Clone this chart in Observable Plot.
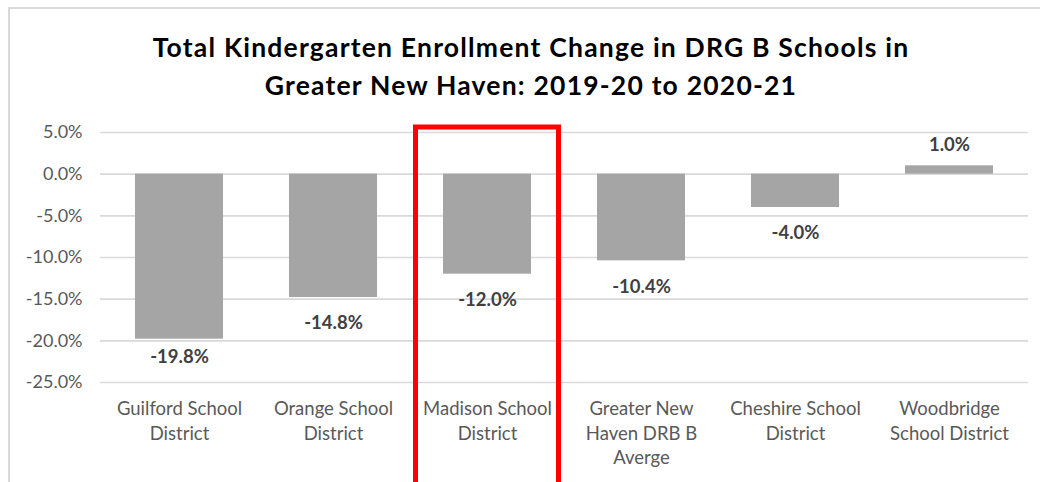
<!DOCTYPE html>
<html>
<head>
<meta charset="utf-8">
<script src="https://cdn.jsdelivr.net/npm/d3@7"></script>
<script src="https://cdn.jsdelivr.net/npm/@observablehq/plot@0.6"></script>
<style>
  html, body { margin: 0; padding: 0; background: #fff; }
  #frame { position: relative; width: 1040px; height: 482px; overflow: hidden; background: #fff; font-family: Lato, "Noto Sans", sans-serif; }
  #border { position: absolute; left: 8px; top: 7px; width: 1100px; height: 600px; border-top: 2px solid #D9D9D9; border-left: 2px solid #D9D9D9; box-sizing: border-box; }
  #title { position: absolute; left: 0; width: 1062px; top: 28px; text-align: center; font-weight: bold; font-size: 26.5px; letter-spacing: 1.2px; line-height: 38px; color: #000; }
  #chart { position: absolute; left: 0; top: 110px; }
</style>
</head>
<body>
<div id="frame">
  <div id="border"></div>
  <div id="title">Total Kindergarten Enrollment Change in DRG B Schools in<br>Greater New Haven: 2019-20 to 2020-21</div>
  <div id="chart"></div>
</div>
<script>
const categories = [
  "Guilford School District",
  "Orange School District",
  "Madison School District",
  "Greater New Haven DRB B Averge",
  "Cheshire School District",
  "Woodbridge School District"
];
const tickLabels = [
  "Guilford School\nDistrict",
  "Orange School\nDistrict",
  "Madison School\nDistrict",
  "Greater New\nHaven DRB B\nAverge",
  "Cheshire School\nDistrict",
  "Woodbridge\nSchool District"
];
const values = [-19.8, -14.8, -12.0, -10.4, -4.0, 1.0];
const yTicks = [5, 0, -5, -10, -15, -20, -25];
const highlighted = ["Madison School District"];
const highlightSpan = [5.6, -38];

const data = categories.map((c, i) => ({category: c, value: values[i]}));
const labelOf = new Map(categories.map((c, i) => [c, tickLabels[i]]));
const labelFloor = -21.9; // keeps lowest data label inside the plot, as in the original

const chart = Plot.plot({
  width: 1040,
  height: 372,
  marginLeft: 100,
  marginRight: 12,
  marginTop: 22,
  marginBottom: 100,
  style: {fontFamily: "Lato, 'Noto Sans', sans-serif", background: "transparent"},
  x: {domain: categories, paddingInner: 0.43, paddingOuter: 0.215, label: null},
  y: {domain: [-25, 5], label: null},
  marks: [
    Plot.gridY(yTicks, {stroke: "#D9D9D9", strokeOpacity: 1, strokeWidth: 1.6}),
    Plot.axisY(yTicks, {tickSize: 0, tickPadding: 18, fontSize: 18, fill: "#595959", tickFormat: d => d.toFixed(1) + "%"}),
    Plot.axisX({tickSize: 0, tickPadding: 15, fontSize: 18.5, fill: "#595959", lineHeight: 1.33, tickFormat: d => labelOf.get(d)}),
    Plot.barY(data, {x: "category", y: "value", fill: "#A5A5A5"}),
    Plot.text(data.filter(d => d.value < 0), {
      x: "category", y: d => Math.max(d.value - 3.1, labelFloor),
      text: d => d.value.toFixed(1) + "%", fontSize: 18.5, fontWeight: "bold", fill: "#404040"
    }),
    Plot.text(data.filter(d => d.value >= 0), {
      x: "category", y: "value", dy: -21,
      text: d => d.value.toFixed(1) + "%", fontSize: 18.5, fontWeight: "bold", fill: "#404040"
    }),
    Plot.barY(highlighted, {
      x: d => d, y1: highlightSpan[0], y2: highlightSpan[1],
      fill: "none", stroke: "#FF0000", strokeWidth: 5, insetLeft: -27.5, insetRight: -27.5
    })
  ]
});
document.getElementById("chart").appendChild(chart);
</script>
</body>
</html>
